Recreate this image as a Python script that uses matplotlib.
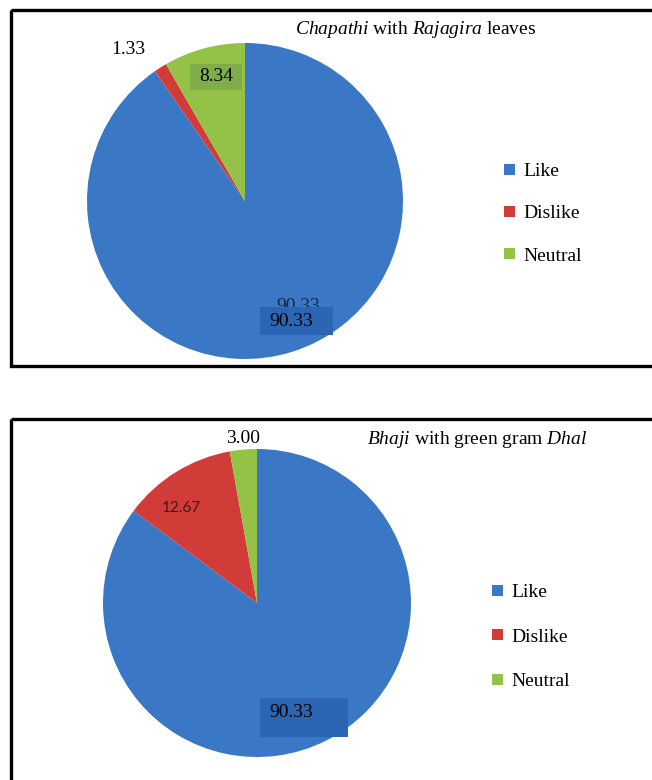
import matplotlib
matplotlib.use('Agg')
import matplotlib.pyplot as plt
from matplotlib.patches import Rectangle, Patch

# data
categories = ['Like', 'Dislike', 'Neutral']
chapathi_values = [90.33, 1.33, 8.34]
bhaji_values = [90.33, 12.67, 3.00]
chapathi_title = r'$\mathit{Chapathi}$ with $\mathit{Rajagira}$ leaves'
bhaji_title = r'$\mathit{Bhaji}$ with green gram $\mathit{Dhal}$'

colors = ['#3a77c4', '#d13c39', '#93c246']

plt.rcParams['mathtext.fontset'] = 'custom'
plt.rcParams['mathtext.rm'] = 'Liberation Serif'
plt.rcParams['mathtext.it'] = 'Liberation Serif:italic'
SERIF = 'Liberation Serif'
FS = 14

W, H = 652, 780
fig = plt.figure(figsize=(W / 100, H / 100), dpi=100)

# overlay in pixel units for frames
bg = fig.add_axes([0, 0, 1, 1], zorder=0)
bg.set_xlim(0, W)
bg.set_ylim(H, 0)
bg.axis('off')
bg.add_patch(Rectangle((11, 10), 660, 356, fill=False, lw=2.4, ec='black'))
bg.add_patch(Rectangle((11, 419), 660, 400, fill=False, lw=2.4, ec='black'))


def pie_axes(cx, cy, r):
    ax = fig.add_axes([(cx - r) / W, (H - cy - r) / H, 2 * r / W, 2 * r / H], zorder=2)
    return ax


def draw_pie(ax, values):
    wedges, _ = ax.pie(values, colors=colors, startangle=90, counterclock=False,
                       wedgeprops=dict(linewidth=0))
    ax.set_xlim(-1, 1)
    ax.set_ylim(-1, 1)
    ax.set_aspect('equal')
    ax.axis('off')
    return wedges


def box_label(ax, x, y, txt, x0, y0, w, h, fc):
    ax.add_patch(Rectangle((x0, y0), w, h, fc=fc, ec='none', zorder=3, clip_on=False))
    ax.text(x, y, txt, ha='center', va='center', fontsize=FS, family=SERIF,
            color='black', zorder=4)


def legend(handles, x, y, spacing):
    fig.legend(handles=handles, loc='upper left', bbox_to_anchor=(x / W, 1 - y / H),
               frameon=False, prop={'family': SERIF, 'size': FS},
               handlelength=0.55, handleheight=0.5, handletextpad=0.45,
               labelspacing=spacing, borderpad=0, borderaxespad=0)


handles = [Patch(fc=c, ec='none', label=l) for c, l in zip(colors, categories)]

# ---- top chart
ax1 = pie_axes(245, 201, 158)
draw_pie(ax1, chapathi_values)
ax1.text(-0.74, 0.96, f'{chapathi_values[1]:.2f}', ha='center', va='center',
         fontsize=FS, family=SERIF)
box_label(ax1, -0.18, 0.79, f'{chapathi_values[2]:.2f}', -0.35, 0.70, 0.33, 0.17, '#7fad49')
# ghost label left behind in the source image, half hidden by the box
ax1.text(0.34, -0.665, f'{chapathi_values[0]:.2f}', ha='center', va='center',
         fontsize=FS, family=SERIF, color='#15284a', zorder=2.5)
box_label(ax1, 0.29, -0.76, f'{chapathi_values[0]:.2f}', 0.095, -0.85, 0.46, 0.18, '#2a66b3')
fig.text(295 / W, 1 - 29 / H, chapathi_title, ha='left', va='center', fontsize=FS,
         family=SERIF, zorder=5)
legend(handles, 504, 163, 1.3)

# ---- bottom chart
ax2 = pie_axes(257, 603, 154)
draw_pie(ax2, bhaji_values)
ax2.text(-0.09, 1.07, f'{bhaji_values[2]:.2f}', ha='center', va='center',
         fontsize=FS, family=SERIF)
ax2.text(-0.49, 0.62, f'{bhaji_values[1]:.2f}', ha='center', va='center',
         fontsize=11, family='Lato', color='#3a1a1a')
box_label(ax2, 0.22, -0.71, f'{bhaji_values[0]:.2f}', 0.02, -0.87, 0.57, 0.25, '#2a66b3')
fig.text(367 / W, 1 - 440 / H, bhaji_title, ha='left', va='center', fontsize=FS,
         family=SERIF, zorder=5)
legend(handles, 492, 584, 1.42)

fig.savefig('out.png', dpi=100)
